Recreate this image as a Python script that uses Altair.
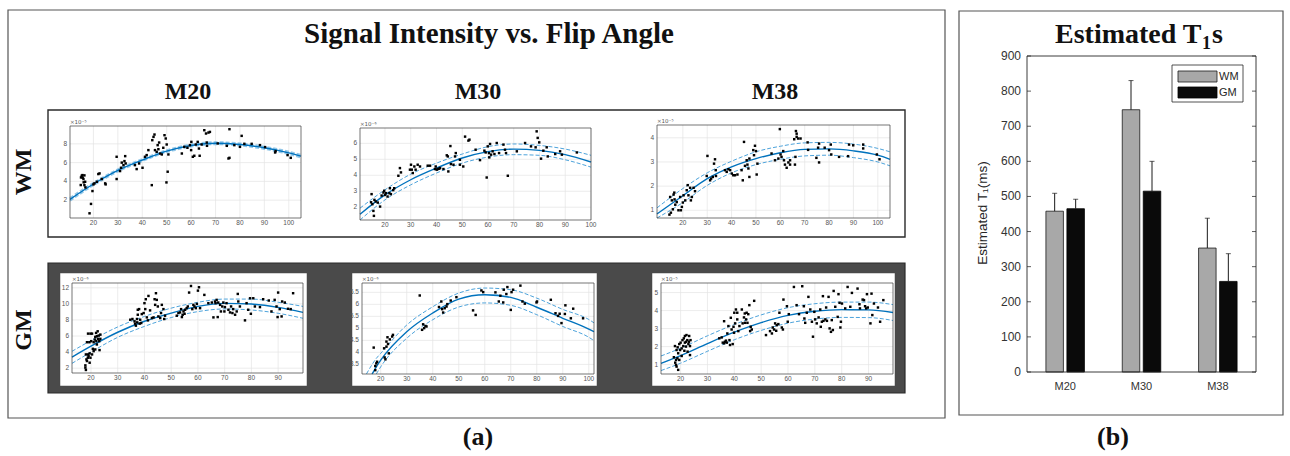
import altair as alt
import pandas as pd

W, H = 1290, 456
SERIF = "Liberation Serif"
SANS = "Liberation Sans"

# ---------------- data ----------------
# (flip angle in degrees, signal intensity in units of the panel exponent)
WM_M20 = [(14.8,3.61),(14.9,4.42),(15.2,4.6),(15.5,4.67),(15.6,4.39),(15.9,4.25),(16.0,3.9),(16.3,4.64),(16.3,3.6),(16.6,3.96),(16.7,3.36),
          (18.4,0.6),(19.0,1.6),(19.6,2.97),(20.0,3.68),(20.4,3.79),(21.4,3.96),(22.0,4.78),(22.5,4.85),(23.4,4.25),(24.8,3.79),(25.0,3.68),
          (29.5,6.62),(29.5,4.25),(30.9,5.1),(31.3,5.45),(31.6,6.0),(32.3,5.73),(32.7,6.16),(33.0,6.69),(33.2,5.91),
          (37.0,5.73),(37.7,5.31),(38.7,5.91),(40.1,5.45),(41.1,6.62),(41.8,6.8),(42.5,7.33),(43.9,3.6),
          (44.1,8.39),(44.6,8.74),(45.0,8.99),(45.2,7.33),(45.9,7.15),(46.3,7.86),(46.6,7.43),(46.9,8.14),(47.3,6.97),(48.0,6.87),
          (48.6,7.58),(49.1,8.92),(49.6,8.57),(49.9,3.89),(50.4,5.03),(50.7,6.87),(50.0,7.93),
          (56.2,6.97),(57.2,7.68),(58.5,7.58),(59.5,7.86),(60.1,8.21),(60.7,6.62),(60.0,7.33),(61.3,6.73),(61.9,7.93),(62.7,8.21),
          (63.2,7.5),(63.5,6.73),(64.3,7.93),(65.4,9.45),(66.1,9.1),(66.4,8.14),(66.5,7.79),(67.1,9.2),(67.7,9.27),
          (70.9,8.04),(74.6,7.79),(75.3,6.44),(75.7,6.51),(75.7,9.56),(77.7,7.86),(80.0,7.68),(80.7,8.85),(81.8,8.0),(84.8,8.0),
          (88.2,7.86),(90.3,7.65),(94.4,7.08),(94.6,7.22),(99.5,6.8),(100.8,6.51)]

WM_M30 = [(14.6,2.31),(14.8,2.82),(15.1,2.19),(15.5,1.77),(15.7,1.46),(15.9,2.46),(16.4,2.36),(17.2,2.29),(18.1,2.04),(18.7,2.73),
          (19.4,2.92),(19.7,3.03),(20.0,2.77),(20.4,2.88),(21.0,2.67),(21.7,2.88),(21.9,3.19),(22.3,2.82),(23.2,3.07),(23.6,3.19),
          (25.2,3.97),(25.8,4.45),(26.2,4.18),(29.7,4.35),(30.1,4.66),(30.4,4.35),(30.8,4.14),(31.4,4.55),(31.9,4.35),(32.7,4.66),
          (33.6,4.55),(36.6,4.6),(37.5,4.6),(39.4,4.39),(39.7,4.55),(40.1,4.35),(40.5,4.39),(41.0,4.41),(41.4,4.45),(42.7,4.39),
          (44.0,5.25),(44.4,5.18),(44.6,4.24),(45.4,5.83),(45.6,4.7),(46.6,4.66),(47.2,5.18),(47.5,5.39),(49.1,4.66),(49.1,4.97),
          (50.4,4.55),(51.1,6.42),(52.4,6.17),(52.8,6.23),(55.2,5.6),(56.9,4.95),(58.6,5.54),(59.1,5.43),(59.5,3.86),(59.9,5.81),
          (60.4,5.39),(60.5,5.12),(60.8,5.96),(61.2,5.29),(61.8,5.5),(62.5,5.33),(63.4,6.02),(64.3,5.39),(66.0,5.92),(66.6,5.6),
          (67.0,5.39),(67.7,3.97),(71.2,5.5),(74.4,6.02),(76.7,5.81),(78.5,5.75),(78.9,6.75),(79.3,6.34),(79.9,6.06),(80.6,5.04),
          (81.5,5.54),(82.8,5.75),(83.2,5.18),(86.1,5.33),(88.0,5.5),(88.7,5.29),(94.5,5.43)]

WM_M38 = [(14.5,0.82),(14.8,1.55),(15.1,0.9),(15.5,1.41),(15.9,1.04),(16.2,1.65),(16.5,1.73),(16.9,1.23),(16.6,1.45),(17.5,1.34),
          (18.2,1.0),(18.9,1.55),(19.2,1.0),(19.6,1.14),(20.0,1.32),(20.3,1.62),(21.0,1.41),(21.6,1.83),(22.0,2.04),(22.3,1.62),
          (23.0,1.93),(23.3,1.41),(23.7,1.55),(24.4,1.93),(25.0,1.79),(30.1,3.25),(29.8,2.42),(31.2,2.24),(31.6,2.31),(32.3,2.38),
          (32.8,2.93),(33.2,3.11),(33.5,2.66),(33.6,2.42),(37.3,2.66),(38.0,2.59),(38.7,2.7),(39.4,2.66),(40.1,2.52),(40.7,2.45),
          (41.4,2.45),(42.4,2.48),(44.1,2.66),(44.6,2.24),(45.1,3.83),(45.5,2.84),(46.2,3.07),(46.5,2.89),(46.9,2.73),(47.3,3.14),
          (47.3,2.38),(48.9,3.49),(49.2,3.28),(49.6,3.67),(50.0,3.45),(50.3,2.48),(50.6,2.93),(56.4,3.35),(57.8,3.07),(59.2,3.14),
          (59.8,4.36),(60.1,3.31),(60.5,3.21),(61.2,3.45),(61.5,3.07),(61.9,2.89),(62.6,2.76),(63.3,2.98),(64.0,2.89),(64.0,3.07),
          (65.7,3.94),(66.0,2.89),(66.2,3.21),(66.4,4.28),(66.7,4.17),(66.7,4.04),(67.3,3.97),(68.3,3.97),(71.2,3.81),(71.4,3.5),
          (74.8,3.17),(75.5,3.59),(75.9,3.76),(75.9,2.98),(78.2,3.59),(80.0,3.49),(80.7,3.72),(80.9,3.31),(84.1,3.21),(87.8,3.24),
          (88.2,3.72),(89.9,3.69),(94.0,3.72),(94.0,3.56),(99.6,3.31),(100.7,3.11)]

GM_M20 = [(17.9,2.07),(18.1,1.78),(17.9,2.35),(18.3,3.09),(18.5,2.89),(18.8,3.3),(18.9,3.71),(18.1,3.71),(19.1,3.51),(19.5,3.84),
          (19.8,3.3),(19.5,2.68),(18.5,5.23),(18.9,6.3),(19.4,5.23),(19.8,6.3),(20.1,5.36),(20.4,6.3),(20.7,4.41),(21.0,5.23),
          (21.4,5.56),(21.6,5.89),(21.9,6.39),(22.0,5.36),(22.2,4.95),(22.2,5.98),(22.5,6.59),(22.6,5.65),(22.9,6.06),(23.1,5.36),
          (23.2,4.25),(23.5,6.18),(23.5,5.65),(21.6,4.33),(21.0,4.12),(20.4,3.71),
          (34.7,8.03),(35.5,8.12),(36.3,7.83),(36.5,7.54),(36.8,7.29),(37.2,8.12),(37.3,7.7),(37.5,8.65),(37.5,9.27),(38.0,9.35),
          (38.2,7.54),(38.4,8.03),(38.8,7.62),(39.0,8.73),(39.7,8.86),(40.0,10.09),(40.3,9.35),(40.5,10.58),(40.9,8.32),(41.3,7.95),
          (41.5,10.99),(42.1,9.19),(42.8,8.24),(43.4,8.32),(43.8,10.58),(44.0,9.88),(44.3,11.33),(44.6,10.5),(45.0,9.68),(45.2,8.44),
          (45.9,8.24),(46.2,8.86),(46.5,9.88),(47.1,9.35),(47.4,8.12),(47.7,8.53),
          (52.1,8.53),(52.7,8.86),(53.3,8.94),(53.7,9.35),(54.0,8.36),(54.3,8.65),(54.6,9.06),(55.0,8.77),(55.2,9.27),(55.8,9.47),
          (56.2,9.68),(56.7,11.41),(57.4,12.23),(57.9,9.35),(58.3,9.88),(58.7,9.68),(59.2,9.47),(59.6,10.0),(60.0,11.65),(60.4,12.07),
          (60.8,9.47),(62.4,11.12),(63.9,10.09),(65.2,10.17),(65.8,8.32),(66.4,10.3),(66.6,10.09),(67.0,10.5),(67.4,8.36),(67.6,10.17),
          (68.3,9.88),(68.6,9.06),(69.1,9.68),(69.5,10.17),(69.9,9.06),(70.1,9.6),(70.7,10.09),(71.4,9.27),(72.0,8.94),(72.4,9.68),
          (72.9,8.86),(73.2,9.35),(73.9,8.65),(74.5,9.06),(74.9,11.24),(75.1,10.3),(75.7,9.68),(77.6,7.95),(78.2,10.09),(78.8,9.27),
          (79.5,10.7),(79.8,8.77),(80.7,10.7),(81.3,9.68),(83.2,9.6),(84.4,10.58),(86.5,10.42),(87.5,9.06),(88.7,10.5),(89.4,9.68),
          (89.8,8.36),(90.0,11.41),(90.6,9.35),(91.3,8.44),(91.5,10.3),(92.5,10.17),(93.7,9.39),(94.7,9.35),(95.6,11.33)]

GM_M30 = [(17.3,4.2),(17.9,3.43),(18.3,3.54),(18.6,3.61),(17.9,3.26),(21.3,4.17),(21.5,3.79),(21.8,3.71),(22.2,4.45),(22.2,4.24),
          (22.6,4.63),(22.8,4.35),(23.1,3.96),(23.5,4.54),(24.4,4.66),(24.7,4.73),(35.0,6.37),(35.9,4.94),(36.3,5.17),(36.7,5.01),
          (37.2,5.1),(37.6,5.08),(42.4,5.89),(43.3,6.12),(43.6,5.8),(44.0,5.66),(44.6,5.84),(45.3,5.91),(45.6,6.01),(46.9,6.16),
          (49.1,6.3),(55.5,5.75),(56.5,5.56),(58.7,6.58),(59.4,6.51),(64.1,6.5),(65.4,6.12),(66.0,6.36),(67.1,6.08),(67.3,6.61),
          (68.3,6.43),(68.7,6.72),(70.0,5.77),(70.3,6.51),(70.9,6.61),(73.7,6.78),(74.5,6.12),(75.4,6.03),(79.9,6.08),(80.1,6.12),
          (85.4,6.19),(87.2,5.63),(88.2,5.52),(88.8,5.61),(89.5,5.22),(90.8,5.6),(91.0,5.96),(93.1,5.42),(94.0,5.82),(97.8,5.42)]

GM_M38 = [(17.5,1.41),(17.9,2.03),(18.0,1.11),(18.3,0.98),(18.3,1.26),(18.5,0.89),(18.8,1.35),(18.5,1.81),(18.9,1.96),(19.1,0.71),
          (19.1,1.63),(19.5,1.26),(19.5,2.14),(19.8,1.81),(20.0,2.22),(20.4,1.9),(20.4,1.48),(20.7,2.36),(21.0,2.03),(21.2,2.46),
          (21.4,1.77),(21.6,2.22),(21.6,2.59),(22.0,2.0),(22.0,2.27),(22.2,2.64),(22.5,2.36),(22.6,1.72),(22.9,2.14),(23.1,2.27),
          (23.2,2.59),(23.5,2.03),(23.5,1.53),(23.7,2.36),
          (34.4,2.46),(35.3,2.51),(35.7,2.22),(36.2,2.18),(36.5,2.27),(36.2,3.41),(36.9,2.33),(37.2,2.22),(37.4,2.73),(37.8,3.14),
          (38.2,2.36),(38.4,2.09),(38.7,3.6),(39.0,2.95),(39.4,2.14),(39.7,3.1),(39.9,2.77),(40.0,3.88),(40.3,3.29),(40.6,4.06),
          (41.1,3.88),(41.1,3.51),(41.5,2.86),(41.9,3.14),(42.8,4.06),(43.1,3.29),(43.6,3.62),(43.9,3.84),(44.0,3.32),(44.4,3.51),
          (44.6,3.88),(44.9,3.32),(45.2,3.8),(45.6,4.3),(45.9,2.86),(46.1,3.1),(46.5,2.95),(47.4,4.54),
          (51.8,2.64),(53.3,2.86),(54.0,2.73),(54.3,3.06),(54.8,2.95),(55.2,3.29),(55.6,2.88),(55.8,3.19),(56.4,3.25),(56.8,3.88),
          (57.7,3.06),(58.1,2.95),(58.3,4.61),(59.6,4.24),(59.9,3.38),(60.3,3.8),(62.2,5.31),(63.2,4.3),(64.1,3.8),(65.3,5.35),
          (65.9,4.24),(66.1,3.56),(66.4,3.32),(67.0,3.88),(67.6,4.76),(68.3,4.06),(68.9,3.38),(69.3,2.55),(69.8,3.93),(70.1,3.51),
          (70.7,3.29),(71.4,3.62),(72.0,4.06),(72.2,3.1),(72.6,3.38),(73.0,4.8),(73.2,3.43),(73.9,3.51),(74.2,4.17),(74.5,3.43),
          (75.1,4.76),(75.5,3.01),(76.0,2.82),(76.3,3.47),(76.7,2.92),(77.0,5.09),(77.6,4.21),(78.5,3.65),(78.8,4.91),(79.2,4.43),
          (79.5,3.06),(79.7,3.38),(80.1,4.39),(81.3,4.12),(82.2,5.31),(83.2,4.21),(83.8,4.98),(85.9,5.22),(86.6,4.35),(86.8,4.12),
          (87.8,4.61),(88.3,4.58),(88.7,4.24),(89.1,4.12),(89.4,4.91),(89.7,4.17),(90.7,3.29),(91.1,4.94),(91.4,3.75),(92.0,4.39),
          (93.5,4.17),(94.3,3.38),(95.5,4.58)]

# fitted signal curves (mean and 95% bounds) read at these angles; None = outside the axes
FIT_WM_M20_ANGLE = [10.4, 20, 30, 40, 50, 60, 70, 80, 90, 100, 105]
FIT_WM_M20_MEAN  = [2.09, 3.72, 5.17, 6.27, 7.22, 7.82, 8.07, 7.93, 7.58, 7.04, 6.69]
FIT_WM_M20_UPPER = [2.22, 3.83, 5.27, 6.36, 7.31, 7.92, 8.17, 8.03, 7.69, 7.16, 6.82]
FIT_WM_M20_LOWER = [1.96, 3.61, 5.07, 6.18, 7.13, 7.72, 7.97, 7.83, 7.47, 6.92, 6.56]

FIT_WM_M30_ANGLE = [10.3, 20, 30, 40, 50, 60, 70, 80, 90, 100]
FIT_WM_M30_MEAN  = [1.56, 2.77, 3.72, 4.45, 5.08, 5.48, 5.64, 5.56, 5.29, 4.83]
FIT_WM_M30_UPPER = [1.94, 3.09, 4.07, 4.76, 5.33, 5.79, 5.96, 5.87, 5.64, 5.25]
FIT_WM_M30_LOWER = [1.20, 2.46, 3.40, 4.14, 4.76, 5.14, 5.29, 5.25, 4.97, 4.51]

FIT_WM_M38_ANGLE = [9.4, 20, 30, 40, 50, 60, 70, 80, 90, 100, 105]
FIT_WM_M38_MEAN  = [0.85, 1.60, 2.31, 2.80, 3.14, 3.38, 3.52, 3.54, 3.46, 3.28, 3.11]
FIT_WM_M38_UPPER = [1.10, 1.90, 2.55, 3.03, 3.42, 3.65, 3.79, 3.81, 3.74, 3.56, 3.42]
FIT_WM_M38_LOWER = [0.68, 1.32, 2.03, 2.55, 2.89, 3.11, 3.25, 3.28, 3.18, 3.00, 2.84]

FIT_GM_M20_ANGLE = [12.9, 20, 30, 40, 50, 60, 70, 80, 90, 99.3]
FIT_GM_M20_MEAN  = [3.38, 4.74, 6.47, 7.84, 8.86, 9.69, 10.06, 9.98, 9.57, 8.95]
FIT_GM_M20_UPPER = [4.10, 5.44, 7.13, 8.44, 9.47, 10.2, 10.6, 10.6, 10.2, 9.69]
FIT_GM_M20_LOWER = [2.60, 4.00, 5.84, 7.20, 8.30, 9.04, 9.37, 9.24, 8.83, 8.21]

FIT_GM_M30_ANGLE = [14.5, 16.7, 18.3, 20, 30, 40, 50, 60, 70, 80, 90, 100, 102]
FIT_GM_M30_MEAN  = [None, 3.10, 3.40, 3.68, 4.86, 5.64, 6.22, 6.40, 6.29, 5.88, 5.42, 4.97, 4.86]
FIT_GM_M30_UPPER = [3.10, 3.50, 3.75, 3.96, 5.14, 5.90, 6.47, 6.68, 6.61, 6.26, 5.79, 5.37, 5.23]
FIT_GM_M30_LOWER = [None, None, 3.10, 3.40, 4.59, 5.36, 5.89, 6.06, 5.96, 5.57, 5.08, 4.63, 4.49]

FIT_GM_M38_ANGLE = [12.7, 20, 30, 40, 50, 60, 70, 80, 90, 99.1]
FIT_GM_M38_MEAN  = [1.07, 1.50, 2.17, 2.80, 3.33, 3.73, 3.96, 4.05, 4.04, 3.89]
FIT_GM_M38_UPPER = [1.48, 1.91, 2.60, 3.23, 3.76, 4.16, 4.38, 4.47, 4.47, 4.33]
FIT_GM_M38_LOWER = [0.67, 1.08, 1.74, 2.38, 2.90, 3.30, 3.53, 3.62, 3.61, 3.45]

# estimated T1 (ms)
MODELS = ["M20", "M30", "M38"]
T1_WM_MEAN = [458, 747, 353]
T1_WM_SD = [51, 83, 85]
T1_GM_MEAN = [465, 515, 258]
T1_GM_SD = [27, 85, 79]
T1_TICKS = [0, 100, 200, 300, 400, 500, 600, 700, 800, 900]

# ---------------- panel geometry (layout only) ----------------
PANELS = [
    dict(pts=WM_M20, fa=FIT_WM_M20_ANGLE, fm=FIT_WM_M20_MEAN, fu=FIT_WM_M20_UPPER, fl=FIT_WM_M20_LOWER,
         xdom=[10.4, 105], ydom=[0.1, 9.9], xr=[70, 301], yr=[218, 126],
         xt=[20, 30, 40, 50, 60, 70, 80, 90, 100], yt=[2, 4, 6, 8], exp="×10⁻⁵", band=False),
    dict(pts=WM_M30, fa=FIT_WM_M30_ANGLE, fm=FIT_WM_M30_MEAN, fu=FIT_WM_M30_UPPER, fl=FIT_WM_M30_LOWER,
         xdom=[10.3, 100], ydom=[1.2, 6.96], xr=[360, 591], yr=[220, 128],
         xt=[20, 30, 40, 50, 60, 70, 80, 90, 100], yt=[2, 3, 4, 5, 6], exp="×10⁻⁶", band=True),
    dict(pts=WM_M38, fa=FIT_WM_M38_ANGLE, fm=FIT_WM_M38_MEAN, fu=FIT_WM_M38_UPPER, fl=FIT_WM_M38_LOWER,
         xdom=[9.4, 105], ydom=[0.68, 4.53], xr=[657, 890], yr=[218, 125],
         xt=[20, 30, 40, 50, 60, 70, 80, 90, 100], yt=[1, 2, 3, 4], exp="×10⁻⁵", band=True),
    dict(pts=GM_M20, fa=FIT_GM_M20_ANGLE, fm=FIT_GM_M20_MEAN, fu=FIT_GM_M20_UPPER, fl=FIT_GM_M20_LOWER,
         xdom=[12.9, 99.3], ydom=[1.4, 12.6], xr=[72, 303], yr=[373, 283],
         xt=[20, 30, 40, 50, 60, 70, 80, 90], yt=[2, 4, 6, 8, 10, 12], exp="×10⁻⁶", band=True),
    dict(pts=GM_M30, fa=FIT_GM_M30_ANGLE, fm=FIT_GM_M30_MEAN, fu=FIT_GM_M30_UPPER, fl=FIT_GM_M30_LOWER,
         xdom=[12.8, 102], ydom=[3.1, 6.89], xr=[362, 594], yr=[374, 283],
         xt=[20, 30, 40, 50, 60, 70, 80, 90, 100], yt=[3.5, 4, 4.5, 5, 5.5, 6, 6.5], exp="×10⁻⁶", band=True),
    dict(pts=GM_M38, fa=FIT_GM_M38_ANGLE, fm=FIT_GM_M38_MEAN, fu=FIT_GM_M38_UPPER, fl=FIT_GM_M38_LOWER,
         xdom=[12.7, 99.1], ydom=[0.48, 5.53], xr=[661, 893], yr=[374, 283],
         xt=[20, 30, 40, 50, 60, 70, 80, 90], yt=[1, 2, 3, 4, 5], exp="×10⁻⁵", band=True),
]

ONE = pd.DataFrame({"k": [0]})
BLUE = "#0072BD"
BAND = "#4DA3DB"
LABEL_COLOR = "#555555"


def scatter_panel(p):
    pts = pd.DataFrame(p["pts"], columns=["angle", "signal"])
    fit = pd.DataFrame({"angle": p["fa"], "mean": p["fm"], "upper": p["fu"], "lower": p["fl"]})
    xs = alt.Scale(domain=p["xdom"], range=p["xr"], nice=False, zero=False)
    ys = alt.Scale(domain=p["ydom"], range=p["yr"], nice=False, zero=False)
    x0, x1 = p["xdom"]
    y0, y1 = p["ydom"]
    xt = pd.DataFrame({"t": p["xt"]})
    yt = pd.DataFrame({"t": p["yt"]})
    grid_x = alt.Chart(xt).mark_rule(color="#e4e4e4", strokeWidth=0.7).encode(
        x=alt.X("t:Q", scale=xs, axis=None),
        y=alt.YDatum(y0, scale=ys, axis=None), y2=alt.Y2Datum(y1))
    grid_y = alt.Chart(yt).mark_rule(color="#e4e4e4", strokeWidth=0.7).encode(
        y=alt.Y("t:Q", scale=ys, axis=None),
        x=alt.XDatum(x0, scale=xs, axis=None), x2=alt.X2Datum(x1))
    xlab = alt.Chart(xt).mark_text(baseline="top", dy=2, font=SANS, fontSize=6.5, color=LABEL_COLOR).encode(
        x=alt.X("t:Q", scale=xs, axis=None), y=alt.YDatum(y0, scale=ys, axis=None),
        text=alt.Text("t:Q", format="~g"))
    ylab = alt.Chart(yt).mark_text(align="right", baseline="middle", dx=-3, font=SANS, fontSize=6.5,
                                   color=LABEL_COLOR).encode(
        y=alt.Y("t:Q", scale=ys, axis=None), x=alt.XDatum(x0, scale=xs, axis=None),
        text=alt.Text("t:Q", format="~g"))
    base = alt.Chart(fit).encode(x=alt.X("angle:Q", scale=xs, axis=None))
    bw = 1.0 if p["band"] else 2.2
    bo = 1 if p["band"] else 0.6
    upper = base.mark_line(color=BAND, strokeDash=[4, 2], strokeWidth=bw, opacity=bo,
                           interpolate="monotone").encode(y=alt.Y("upper:Q", scale=ys, axis=None))
    lower = base.mark_line(color=BAND, strokeDash=[4, 2], strokeWidth=bw, opacity=bo,
                           interpolate="monotone").encode(y=alt.Y("lower:Q", scale=ys, axis=None))
    mean = base.mark_line(color=BLUE, strokeWidth=1.4, interpolate="monotone").encode(
        y=alt.Y("mean:Q", scale=ys, axis=None))
    points = alt.Chart(pts).mark_square(size=6, color="black", opacity=1).encode(
        x=alt.X("angle:Q", scale=xs, axis=None), y=alt.Y("signal:Q", scale=ys, axis=None))
    frame = alt.Chart(ONE).mark_rect(fillOpacity=0, stroke="#3a3a3a", strokeWidth=0.7).encode(
        x=alt.XDatum(x0, scale=xs, axis=None), x2=alt.X2Datum(x1),
        y=alt.YDatum(y0, scale=ys, axis=None), y2=alt.Y2Datum(y1))
    expo = alt.Chart(pd.DataFrame({"t": [p["exp"]]})).mark_text(
        align="left", baseline="bottom", font="DejaVu Sans", fontSize=5.5, color=LABEL_COLOR, dy=-1).encode(
        x=alt.XDatum(x0, scale=xs, axis=None), y=alt.YDatum(y1, scale=ys, axis=None), text="t:N")
    return alt.layer(grid_x, grid_y, upper, lower, mean, points, frame, xlab, ylab, expo)


def bar_panel():
    df = pd.DataFrame({"model": MODELS, "wm": T1_WM_MEAN, "gm": T1_GM_MEAN,
                       "wm_top": [m + s for m, s in zip(T1_WM_MEAN, T1_WM_SD)],
                       "gm_top": [m + s for m, s in zip(T1_GM_MEAN, T1_GM_SD)]})
    bx = alt.Scale(domain=MODELS, range=[1027, 1256], paddingInner=0, paddingOuter=0)
    by = alt.Scale(domain=[0, 900], range=[372, 56], nice=False, zero=True)
    X = lambda: alt.X("model:N", scale=bx, sort=MODELS, axis=None)
    off = 10.5
    wm = alt.Chart(df).mark_bar(width=17.5, xOffset=-off, color="#a8a8a8", stroke="#1a1a1a", strokeWidth=0.8).encode(
        x=X(), y=alt.Y("wm:Q", scale=by, axis=None))
    gm = alt.Chart(df).mark_bar(width=17.5, xOffset=off, color="#0a0a0a", stroke="#000000", strokeWidth=0.8).encode(
        x=X(), y=alt.Y("gm:Q", scale=by, axis=None))
    layers = [wm, gm]
    for col, o in (("wm", -off), ("gm", off)):
        layers.append(alt.Chart(df).mark_rule(xOffset=o, color="#1a1a1a", strokeWidth=1).encode(
            x=X(), y=alt.Y(f"{col}:Q", scale=by, axis=None), y2=f"{col}_top:Q"))
        layers.append(alt.Chart(df).mark_tick(xOffset=o, size=5, thickness=1, color="#1a1a1a").encode(
            x=X(), y=alt.Y(f"{col}_top:Q", scale=by, axis=None)))
    ticks = pd.DataFrame({"t": T1_TICKS})
    layers.append(alt.Chart(ticks).mark_rule(color="#333333", strokeWidth=0.8).encode(
        x=alt.value(1027), x2=alt.value(1031), y=alt.Y("t:Q", scale=by, axis=None)))
    layers.append(alt.Chart(ticks).mark_rule(color="#333333", strokeWidth=0.8).encode(
        x=alt.value(1252), x2=alt.value(1256), y=alt.Y("t:Q", scale=by, axis=None)))
    layers.append(alt.Chart(ticks).mark_text(align="right", baseline="middle", font=SANS, fontSize=12,
                                             color="#333333").encode(
        x=alt.value(1021), y=alt.Y("t:Q", scale=by, axis=None), text="t:Q"))
    layers.append(alt.Chart(df).mark_text(baseline="middle", font=SANS, fontSize=11, color="#333333").encode(
        x=X(), y=alt.value(387), text="model:N"))
    layers.append(alt.Chart(ONE).mark_rect(fillOpacity=0, stroke="#262626", strokeWidth=0.9).encode(
        x=alt.value(1027), x2=alt.value(1256), y=alt.value(56), y2=alt.value(372)))
    # legend
    layers.append(alt.Chart(ONE).mark_rect(fill="white", stroke="#262626", strokeWidth=0.8).encode(
        x=alt.value(1172), x2=alt.value(1243), y=alt.value(65), y2=alt.value(102)))
    layers.append(alt.Chart(ONE).mark_rect(fill="#a8a8a8", stroke="#1a1a1a", strokeWidth=0.8).encode(
        x=alt.value(1178), x2=alt.value(1217), y=alt.value(71), y2=alt.value(82)))
    layers.append(alt.Chart(ONE).mark_rect(fill="#0a0a0a", stroke="#000000", strokeWidth=0.8).encode(
        x=alt.value(1178), x2=alt.value(1217), y=alt.value(87), y2=alt.value(98)))
    for lab, yy in (("WM", 76.5), ("GM", 92.5)):
        layers.append(alt.Chart(ONE).mark_text(text=lab, align="left", baseline="middle", font=SANS,
                                               fontSize=11, color="#262626").encode(
            x=alt.value(1219), y=alt.value(yy)))
    return alt.layer(*layers)


def box(x0, x1, y0, y1, fill, stroke, sw):
    return alt.Chart(ONE).mark_rect(fill=fill, stroke=stroke, strokeWidth=sw).encode(
        x=alt.value(x0), x2=alt.value(x1), y=alt.value(y0), y2=alt.value(y1))


def label(txt, x, y, size, font=SERIF, weight="bold", angle=0, align="center", color="#111111", baseline="middle"):
    return alt.Chart(ONE).mark_text(text=txt, font=font, fontSize=size, fontWeight=weight, angle=angle,
                                    align=align, baseline=baseline, color=color).encode(
        x=alt.value(x), y=alt.value(y))


decor = [
    box(8, 945, 10, 418, "white", "#555555", 1.2),
    box(959, 1283, 11, 415, "white", "#555555", 1.2),
    box(48, 905, 110, 237, "white", "#2a2a2a", 1.4),
    box(48, 905, 263, 393, "#4a4a4a", "#2a2a2a", 1.2),
    box(60, 307, 273, 386, "white", "#4a4a4a", 0.5),
    box(352, 597, 273, 386, "white", "#4a4a4a", 0.5),
    box(652, 895, 273, 386, "white", "#4a4a4a", 0.5),
]

texts = [
    label("Signal Intensity vs. Flip Angle", 489, 34, 29),
    label("M20", 188, 92, 24),
    label("M30", 478, 92, 24),
    label("M38", 775, 92, 24),
    label("WM", 24, 172, 24, angle=270),
    label("GM", 24, 330, 24, angle=270),
    label("(a)", 478, 437, 26),
    label("(b)", 1113, 437, 26),
    label("Estimated T", 1055, 43, 28, align="left", baseline="alphabetic"),
    label("1", 1202, 49, 18, align="left", baseline="alphabetic"),
    label("s", 1212, 43, 28, align="left", baseline="alphabetic"),
    label("Estimated T₁(ms)", 983, 213, 13.5, font=SANS, weight="normal", angle=270, color="#262626"),
]

panels = [scatter_panel(p) for p in PANELS]

chart = alt.layer(*decor, *panels, bar_panel(), *texts).resolve_scale(
    x="independent", y="independent"
).properties(
    width=W, height=H, autosize="none", padding=0, background="white"
).configure_view(stroke=None)

chart.save("out.html", embed_options={"renderer": "svg", "actions": False})
